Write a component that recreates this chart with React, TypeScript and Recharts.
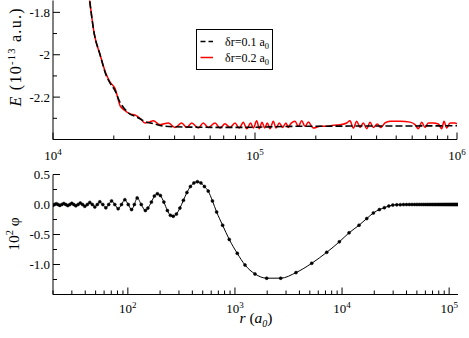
import React from 'react';
import { LineChart, Line, XAxis, YAxis, Legend } from 'recharts';

const FONT = 'Liberation Serif';
const TXT: React.CSSProperties = { fontFamily: 'Liberation Serif, serif' };

// ---------- top panel: E(r) ----------
const blackR = [15000, 16000, 17100, 18300, 19200, 20300, 21470, 22600, 24060, 25460, 26960, 28540, 31370, 33870, 40180, 52410, 75210, 100000, 150000, 250000, 400000, 600000, 1000000];
const blackE = [-1.70, -1.90, -2.00, -2.095, -2.135, -2.17, -2.225, -2.255, -2.28, -2.29, -2.302, -2.315, -2.325, -2.334, -2.340, -2.342, -2.343, -2.342, -2.338, -2.337, -2.336, -2.336, -2.335];

const redR = [15000, 16000, 17100, 18300, 19200, 20300, 21470, 22600, 24060, 25460, 26960, 28540, 30000, 31370, 33870, 37230, 40180, 43370, 45910, 48600, 52410, 55480, 58730, 63390, 67090, 71040, 75210, 79620, 83620, 87520, 90980, 95210, 98080, 101950, 105030, 108320, 111690, 115060, 118670, 123200, 127060, 131910, 137110, 142380, 146170, 149060, 157770, 163860, 170320, 176840, 183640, 194370, 209790, 226460, 244090, 263480, 284450, 295320, 306640, 318810, 331010, 343680, 357270, 370950, 385140, 403100, 419100, 440150, 465900, 522290, 585470, 619790, 643470, 668860, 694550, 721100, 763360, 808030, 840050, 862230, 889200, 923240, 977470, 1000000];
const redE = [-1.70, -1.90, -2.00, -2.09, -2.13, -2.16, -2.24, -2.262, -2.279, -2.284, -2.300, -2.322, -2.318, -2.312, -2.330, -2.322, -2.343, -2.322, -2.343, -2.322, -2.346, -2.322, -2.343, -2.322, -2.346, -2.326, -2.343, -2.322, -2.346, -2.318, -2.349, -2.322, -2.346, -2.312, -2.349, -2.318, -2.346, -2.322, -2.349, -2.314, -2.346, -2.322, -2.343, -2.322, -2.343, -2.330, -2.314, -2.338, -2.312, -2.338, -2.318, -2.346, -2.338, -2.338, -2.333, -2.330, -2.322, -2.312, -2.346, -2.314, -2.343, -2.322, -2.349, -2.318, -2.343, -2.327, -2.343, -2.322, -2.314, -2.314, -2.318, -2.330, -2.349, -2.318, -2.343, -2.322, -2.322, -2.327, -2.349, -2.314, -2.346, -2.322, -2.322, -2.326];

const topXTicks = [10000, 20000, 30000, 40000, 50000, 60000, 70000, 80000, 90000, 100000, 200000, 300000, 400000, 500000, 600000, 700000, 800000, 900000, 1000000];
const topYTicks = [-2.3, -2.2, -2.1, -2.0, -1.9, -1.8];
const topYMajor: Record<string, string> = { '-1.8': '-1.8', '-2': '-2', '-2.2': '-2.2' };

// ---------- bottom panel: 10^2 phi(r) ----------
const phiR = [20, 20.7, 21.47, 22.27, 23.15, 24.16, 25.23, 26.34, 27.5, 28.7, 29.97, 31.28, 32.66, 34.28, 35.98, 37.77, 39.64, 41.83, 44.15, 46.58, 49.17, 51.88, 54.74, 58.4, 62.3, 66.22, 70.42, 75.58, 81.16, 87.23, 93.75, 100.8, 108.3, 115, 122.2, 133.4, 145.7, 153.8, 165.9, 176.9, 188.7, 201.3, 217, 233.9, 249.6, 265.1, 284, 306.2, 330.2, 356, 383.8, 413.9, 446.2, 481.1, 518.8, 563, 616.4, 674.5, 767, 884.5, 1051, 1241, 1538, 1979, 2674, 3717, 5211, 7194, 9436, 11628, 14415, 17015, 19610, 22320, 24850, 27320, 29780, 32450, 35000, 37500, 40000, 42500, 45000, 47500, 50000, 52500, 55000, 57500, 60000, 62500, 65000, 67500, 70000, 72500, 75000, 77500, 80000, 82500, 85000, 87500, 90000, 92500, 95000, 97500, 100000, 102500, 105000, 107500, 110000, 112500, 115000, 117500, 120000];
const phiV = [-0.012, 0, 0.013, 0, -0.015, 0, 0.016, 0, -0.018, 0, 0.02, 0, -0.022, 0, 0.025, 0, -0.03, 0, 0.035, 0, -0.04, 0, 0.045, 0, -0.055, 0, 0.06, 0, -0.07, 0, 0.08, 0, -0.085, 0, 0.11, 0, -0.10, -0.06, 0.04, 0.14, 0.18, 0.15, 0.04, -0.10, -0.18, -0.196, -0.16, -0.06, 0.07, 0.2, 0.3, 0.36, 0.38, 0.36, 0.3, 0.223, 0.06, -0.125, -0.345, -0.582, -0.814, -1.008, -1.157, -1.228, -1.228, -1.135, -0.98, -0.797, -0.622, -0.472, -0.345, -0.234, -0.141, -0.085, -0.053, -0.025, -0.01, -0.005, -0.003, -0.002, -0.001, 0, 0, 0, 0, 0, 0, 0, 0, 0, 0, 0, 0, 0, 0, 0, 0, 0, 0, 0, 0, 0, 0, 0, 0, 0, 0, 0, 0, 0, 0, 0, 0];

const botXTicks = [20, 30, 40, 50, 60, 70, 80, 90, 100, 200, 300, 400, 500, 600, 700, 800, 900, 1000, 2000, 3000, 4000, 5000, 6000, 7000, 8000, 9000, 10000, 20000, 30000, 40000, 50000, 60000, 70000, 80000, 90000, 100000];
const botYTicks = [-1.25, -1, -0.75, -0.5, -0.25, 0, 0.25, 0.5];
const botYMajor: Record<string, string> = { '0.5': '0.5', '0': '0.0', '-0.5': '-0.5', '-1': '-1.0' };

const legendLabels = ['δr=0.1 a', 'δr=0.2 a'];

const blackData = blackR.map((r, i) => ({ r, E: blackE[i] }));
const redData = redR.map((r, i) => ({ r, E: redE[i] }));
const phiData = phiR.map((r, i) => ({ r, p: phiV[i] }));

const isMajorLog = (v: number) => Math.abs(Math.log10(v) - Math.round(Math.log10(v))) < 1e-9;

const AX = '#000';

// geometry of the two plot areas (local chart coordinates)
const T = { left: 53, right: 457, top: 0.5, bottom: 139.5, labelY: 160 };
const B = { left: 53, right: 458, top: 9.5, bottom: 129.5, labelY: 148 };

const makeXTick = (g: any, side: 'bottom' | 'top') => (props: any) => {
  const { x, payload } = props;
  const v = payload.value;
  const major = isMajorLog(v);
  const len = major ? 7 : 4;
  const y0 = side === 'bottom' ? g.bottom : g.top;
  const y1 = side === 'bottom' ? y0 - len : y0 + len;
  return (
    <g>
      <line x1={x} x2={x} y1={y0} y2={y1} stroke={AX} strokeWidth={1} />
      {side === 'bottom' && major && (
        <text x={x} y={g.labelY} textAnchor="middle" style={TXT} fontFamily={FONT} fontSize={13} fill="#000">
          10<tspan dy={-5} fontSize={9}>{Math.round(Math.log10(v))}</tspan>
        </text>
      )}
    </g>
  );
};

const makeYTick = (g: any, side: 'left' | 'right', labels: Record<string, string>) => (props: any) => {
  const { y, payload } = props;
  const key = String(Math.round(payload.value * 1000) / 1000);
  const lab = labels[key];
  const major = lab !== undefined;
  const len = major ? 7 : 4;
  const x0 = side === 'left' ? g.left : g.right;
  const x1 = side === 'left' ? x0 + len : x0 - len;
  return (
    <g>
      <line x1={x0} x2={x1} y1={y} y2={y} stroke={AX} strokeWidth={1} />
      {side === 'left' && major && (
        <text x={50} y={y + 4.5} textAnchor="end" style={TXT} fontFamily={FONT} fontSize={13} fill="#000">
          {lab}
        </text>
      )}
    </g>
  );
};

const TopYTitle = () => (
  <text transform="rotate(-90)" x={-57.5} y={21} textAnchor="middle" style={TXT} fontFamily={FONT} fontSize={16}
    fill="#000" textLength={98} lengthAdjust="spacing">
    <tspan fontStyle="italic">E</tspan> (10<tspan dy={-6} fontSize={10.5}>-13</tspan>
    <tspan dy={6}> a.u.)</tspan>
  </text>
);

const BotYTitle = () => (
  <text transform="rotate(-90)" x={-69} y={19} textAnchor="middle" style={TXT} fontFamily={FONT} fontSize={15.5} fill="#000">
    10<tspan dy={-6} fontSize={10.5}>2</tspan>
    <tspan dy={6}> φ</tspan>
  </text>
);

const BotXTitle = () => (
  <text x={256} y={158} textAnchor="middle" style={TXT} fontFamily={FONT} fontSize={15.5} fill="#000">
    <tspan fontStyle="italic">r</tspan> (<tspan fontStyle="italic">a</tspan>
    <tspan dy={4} fontSize={10} fontStyle="italic">0</tspan>
    <tspan dy={-4}>)</tspan>
  </text>
);

const LegendBox = () => (
  <svg width={78} height={42} style={{ display: 'block' }}>
    <rect x={0.5} y={0.5} width={76} height={40} fill="#fff" stroke="#000" strokeWidth={1} />
    <line x1={4.5} x2={17} y1={12.5} y2={12.5} stroke="#000" strokeWidth={1.5} strokeDasharray="5 3" />
    <text x={29} y={16.5} style={TXT} fontFamily={FONT} fontSize={12} fill="#000">
      {legendLabels[0]}
      <tspan dy={3} fontSize={8.5}>0</tspan>
    </text>
    <line x1={4.5} x2={17} y1={28.5} y2={28.5} stroke="#ff0000" strokeWidth={1.5} />
    <text x={29} y={32.5} style={TXT} fontFamily={FONT} fontSize={12} fill="#000">
      {legendLabels[1]}
      <tspan dy={3} fontSize={8.5}>0</tspan>
    </text>
  </svg>
);

export default function App() {
  return (
    <div style={{ position: 'absolute', left: 0, top: 0, width: 469, height: 338, background: '#fff' }}>
      <div style={{ position: 'absolute', left: 0, top: 0 }}>
        <LineChart width={469} height={170} margin={{ top: 0.5, right: 12, bottom: 0.5, left: 0 }}>
          <XAxis xAxisId="b" dataKey="r" type="number" scale="log" domain={[10000, 1000000]} allowDataOverflow
            ticks={topXTicks} interval={0} height={30} tickLine={false} axisLine={{ stroke: AX }}
            tick={makeXTick(T, 'bottom')} />
          <XAxis xAxisId="t" orientation="top" dataKey="r" type="number" scale="log" domain={[10000, 1000000]} allowDataOverflow
            ticks={topXTicks} interval={0} height={0} tickLine={false} axisLine={{ stroke: AX }}
            tick={makeXTick(T, 'top')} />
          <YAxis yAxisId="l" type="number" domain={[-2.4, -1.744]} allowDataOverflow ticks={topYTicks} interval={0}
            width={53} tickLine={false} axisLine={{ stroke: AX }} tick={makeYTick(T, 'left', topYMajor)}
            label={<TopYTitle />} />
          <YAxis yAxisId="r" orientation="right" type="number" domain={[-2.4, -1.744]} allowDataOverflow ticks={topYTicks} interval={0}
            width={0} tickLine={false} axisLine={{ stroke: AX }} tick={makeYTick(T, 'right', topYMajor)} />
          <Line xAxisId="b" yAxisId="l" data={redData} dataKey="E" type="monotone" stroke="#ff0000" strokeWidth={1.5}
            dot={false} isAnimationActive={false} />
          <Line xAxisId="b" yAxisId="l" data={blackData} dataKey="E" type="monotone" stroke="#000" strokeWidth={1.6}
            strokeDasharray="7 3" dot={false} isAnimationActive={false} />
          <Legend layout="vertical" align="center" verticalAlign="middle" content={<LegendBox />}
            wrapperStyle={{ left: 196, top: 29, width: 78, height: 42 }} />
        </LineChart>
      </div>
      <div style={{ position: 'absolute', left: 0, top: 165 }}>
        <LineChart width={469} height={173} margin={{ top: 9.5, right: 11, bottom: 0, left: 0 }}>
          <XAxis xAxisId="b" dataKey="r" type="number" scale="log" domain={[20, 121000]} allowDataOverflow
            ticks={botXTicks} interval={0} height={43.5} tickLine={false} axisLine={{ stroke: AX }}
            tick={makeXTick(B, 'bottom')} label={<BotXTitle />} />
          <XAxis xAxisId="t" orientation="top" dataKey="r" type="number" scale="log" domain={[20, 121000]} allowDataOverflow
            ticks={botXTicks} interval={0} height={0} tickLine={false} axisLine={{ stroke: AX }}
            tick={makeXTick(B, 'top')} />
          <YAxis yAxisId="l" type="number" domain={[-1.5, 0.5]} allowDataOverflow ticks={botYTicks} interval={0}
            width={53} tickLine={false} axisLine={{ stroke: AX }} tick={makeYTick(B, 'left', botYMajor)}
            label={<BotYTitle />} />
          <YAxis yAxisId="r" orientation="right" type="number" domain={[-1.5, 0.5]} allowDataOverflow ticks={botYTicks} interval={0}
            width={0} tickLine={false} axisLine={{ stroke: AX }} tick={makeYTick(B, 'right', botYMajor)} />
          <Line xAxisId="b" yAxisId="l" data={phiData} dataKey="p" type="monotone" stroke="#000" strokeWidth={1}
            dot={{ r: 1.5, fill: '#000', stroke: '#000', strokeWidth: 0.5 }} isAnimationActive={false} />
        </LineChart>
      </div>
    </div>
  );
}
